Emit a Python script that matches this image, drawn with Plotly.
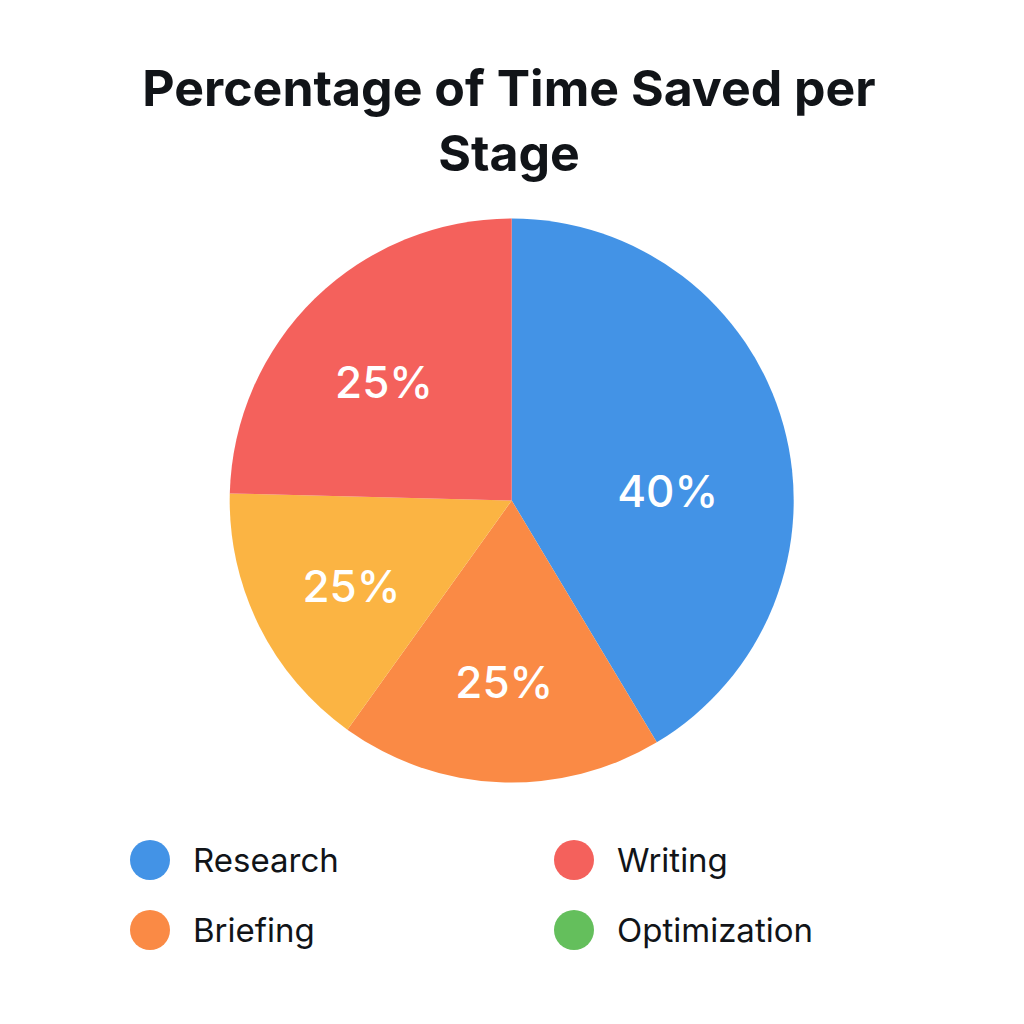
import plotly.graph_objects as go

# slice data, clockwise from 12 o'clock
stages = ["Research", "Briefing", "Optimization", "Writing"]
slice_share = [41.4, 18.5, 15.5, 24.6]          # arc sizes as drawn
slice_text = ["40%", "25%", "25%", "25%"]       # labels as printed
slice_colors = ["#4393E6", "#FA8A45", "#FBB443", "#F4615C"]

# legend entries (two columns)
legend_labels = ["Research", "Writing", "Briefing", "Optimization"]
legend_colors = ["#4393E6", "#F4615C", "#FA8A45", "#64BF5C"]

W = H = 1024
OFF = 8            # page margin the browser puts round the plot
FONT = "Inter"
SP = "&nbsp;"


def px(x):
    return (x - OFF) / W


def py(y):
    return 1 - (y - OFF) / H


# nudge the labels to where the original has them, by padding the text box
# (empty line above -> lower, spaces before -> right, spaces after -> left)
pads = [(SP + "<br>" + SP * 3, ""), ("", ""), (SP * 2, ""), ("", SP * 2)]
shown_text = [a + t + b for (a, b), t in zip(pads, slice_text)]

fig = go.Figure(go.Pie(
    labels=stages,
    values=slice_share,
    text=shown_text,
    textinfo="text",
    textposition="inside",
    insidetextorientation="horizontal",
    textfont=dict(family=FONT, size=44, color="white", weight=500),
    marker=dict(colors=slice_colors, line=dict(width=0)),
    sort=False,
    direction="clockwise",
    rotation=0,
    hoverinfo="label",
    domain=dict(x=[px(511.7 - 282), px(511.7 + 282)],
                y=[py(500.5 + 282), py(500.5 - 282)]),
    showlegend=False,
))

# ── hand-made legend: big dots + labels ─────────────────────────────────────
shapes, annotations = [], []
col_x = [150, 574]        # dot centres, screen px
row_y = [860, 930]
dot_r = 20
for i, (lab, col) in enumerate(zip(legend_labels, legend_colors)):
    cx, cy = col_x[i % 2], row_y[i // 2]
    shapes.append(dict(
        type="circle", xref="paper", yref="paper",
        x0=px(cx - dot_r), x1=px(cx + dot_r),
        y0=py(cy + dot_r), y1=py(cy - dot_r),
        fillcolor=col, line=dict(width=0),
    ))
    annotations.append(dict(
        text=lab, xref="paper", yref="paper",
        x=px(cx + 41), y=py(cy),
        xanchor="left", yanchor="middle", showarrow=False,
        font=dict(family=FONT, size=33, color="#111418"),
    ))

fig.update_layout(
    width=W, height=H,
    margin=dict(l=0, r=0, t=0, b=0),
    paper_bgcolor="white",
    plot_bgcolor="white",
    title=dict(
        text="<b>Percentage of Time Saved per<br>Stage</b>",
        x=px(509), xanchor="center",
        y=py(106), yanchor="top",
        font=dict(family=FONT, size=50, color="#111418"),
    ),
    shapes=shapes,
    annotations=annotations,
)

fig.write_html("out.html")
